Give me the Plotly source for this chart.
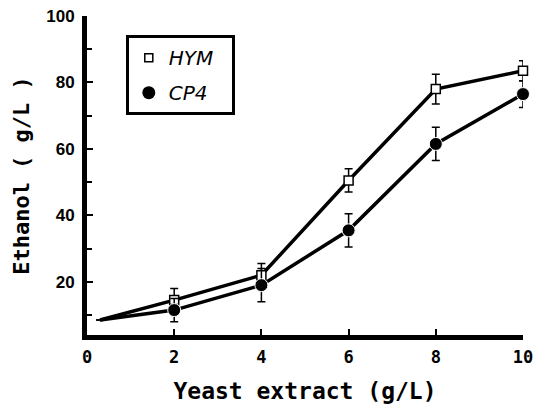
import plotly.graph_objects as go

x_vals = [0.3, 2, 4, 6, 8, 10]
hym = [8.5, 14.5, 22, 50.5, 78, 83.5]
hym_err = [0, 3.5, 3.5, 3.5, 4.5, 3]
cp4 = [8.5, 11.5, 19, 35.5, 61.5, 76.5]
cp4_err = [0, 3.5, 5, 5, 5, 4]
marker_show = [0, 1, 1, 1, 1, 1]

x_ticks = [0, 2, 4, 6, 8, 10]
y_ticks = [20, 40, 60, 80, 100]

fig = go.Figure()

fig.add_trace(go.Scatter(
    x=x_vals, y=hym, mode="lines+markers", showlegend=False,
    line=dict(color="black", width=3.5),
    marker=dict(symbol="square", size=[9 * m for m in marker_show], color="white", opacity=1,
                line=dict(color="black", width=1.5)),
    error_y=dict(type="data", array=hym_err, color="black", thickness=1.5, width=4),
    cliponaxis=False,
))
fig.add_trace(go.Scatter(
    x=x_vals, y=cp4, mode="lines+markers", showlegend=False,
    line=dict(color="black", width=3.5),
    marker=dict(symbol="circle", size=[13 * m for m in marker_show], color="black", opacity=1),
    error_y=dict(type="data", array=cp4_err, color="black", thickness=1.5, width=4),
    cliponaxis=False,
))
# legend-only entries
fig.add_trace(go.Scatter(
    x=[None], y=[None], mode="markers", name="HYM\u00a0\u00a0", legendgroup="a",
    marker=dict(symbol="square", size=8, color="white", opacity=1, line=dict(color="black", width=1.5)),
))
fig.add_trace(go.Scatter(
    x=[None], y=[None], mode="markers", name="CP4\u00a0\u00a0", legendgroup="b",
    marker=dict(symbol="circle", size=13, color="black", opacity=1),
))

fig.update_layout(
    width=534, height=404,
    margin=dict(l=87, r=11, t=16, b=69),
    paper_bgcolor="white", plot_bgcolor="white",
    showlegend=True,
    legend=dict(
        x=0.089, y=0.94, xanchor="left", yanchor="top",
        bordercolor="black", borderwidth=3, bgcolor="white",
        font=dict(family="DejaVu Sans", size=20, color="black", style="italic"),
        itemwidth=30, traceorder="grouped", tracegroupgap=6,
    ),
    xaxis=dict(
        range=[0, 10], tickvals=x_ticks, ticktext=[str(v) for v in x_ticks],
        showline=True, linecolor="black", linewidth=5, showgrid=False, zeroline=False,
        ticks="inside", ticklen=6, tickwidth=1.5, tickcolor="black",
        ticklabeloverflow="allow", automargin=False,
        tickfont=dict(family="DejaVu Sans Mono", size=17, color="black", weight="bold"),
        ticklabelstandoff=3,
        title=dict(text="Yeast extract (g/L)", standoff=22,
                   font=dict(family="DejaVu Sans Mono", size=23, color="black", weight="bold")),
    ),
    yaxis=dict(
        range=[4, 100], tickvals=y_ticks, ticktext=[str(v) for v in y_ticks],
        showline=True, linecolor="black", linewidth=5, showgrid=False, zeroline=False,
        ticks="inside", ticklen=6, tickwidth=1.5, tickcolor="black", automargin=False,
        minor=dict(tickvals=[10, 30, 50, 70, 90], ticks="inside", ticklen=5, tickwidth=1.5, tickcolor="black"),
        tickfont=dict(family="Liberation Sans", size=17, color="black", weight="bold"),
        ticklabelstandoff=4,
        title=dict(text="Ethanol ( g/L )", standoff=12,
                   font=dict(family="DejaVu Sans Mono", size=22, color="black", weight="bold")),
    ),
)

fig.write_html("out.html")
